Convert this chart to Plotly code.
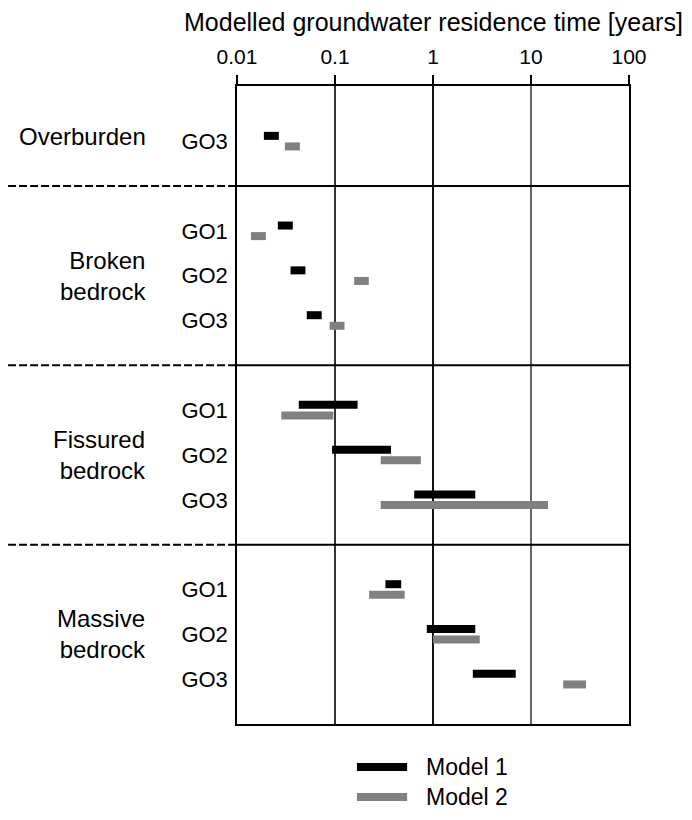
import plotly.graph_objects as go

# ---- data ----
group_labels = ["Overburden", "Broken<br>bedrock", "Fissured<br>bedrock", "Massive<br>bedrock"]
group_centers = [13.1, 10, 6, 2]
separators = [12, 8, 4]

row_labels = ["GO3", "GO1", "GO2", "GO3", "GO1", "GO2", "GO3", "GO1", "GO2", "GO3"]
row_pos = [13, 11, 10, 9, 7, 6, 5, 3, 2, 1]

model1_lo = [0.0188, 0.0261, 0.0352, 0.0515, 0.0427, 0.0933, 0.643, 0.327, 0.865, 2.55]
model1_hi = [0.0267, 0.0371, 0.0499, 0.0731, 0.170, 0.373, 2.70, 0.474, 2.70, 6.98]
model2_lo = [0.0308, 0.0139, 0.157, 0.0881, 0.0283, 0.293, 0.293, 0.223, 1.00, 21.3]
model2_hi = [0.0438, 0.0197, 0.221, 0.125, 0.0961, 0.752, 14.9, 0.514, 3.00, 36.4]

tick_vals = [0.01, 0.1, 1, 10, 100]
tick_text = ["0.01", "0.1", "1", "10", "100"]
grid_vals = [0.1, 1, 10]
grid_colors = ["#333333", "#111111", "#666666"]

model_names = ["Model 1", "Model 2"]
model_colors = ["#000000", "#808080"]
model_offsets = [0.118, -0.118]
model_lo = [model1_lo, model2_lo]
model_hi = [model1_hi, model2_hi]

FONT = "Liberation Sans, Arial, sans-serif"

fig = go.Figure()
for name, lo, hi, off, col in zip(model_names, model_lo, model_hi, model_offsets, model_colors):
    xs, ys = [], []
    for a, b, p in zip(lo, hi, row_pos):
        xs += [a, b, None]
        ys += [p + off, p + off, None]
    fig.add_trace(go.Scatter(x=xs, y=ys, mode="lines", name=name,
                             line=dict(color=col, width=8),
                             hoverinfo="skip", showlegend=False))

shapes = []
for g, gc in zip(grid_vals, grid_colors):
    shapes.append(dict(type="line", xref="x", yref="paper", x0=g, x1=g, y0=0, y1=1,
                       layer="below", line=dict(color=gc, width=2)))
for s in separators:
    shapes.append(dict(type="line", xref="paper", yref="y", x0=0, x1=1, y0=s, y1=s,
                       line=dict(color="black", width=2)))
    shapes.append(dict(type="line", xref="paper", yref="y", x0=-0.584, x1=0, y0=s, y1=s,
                       line=dict(color="black", width=2, dash="8px,3px")))

annotations = [dict(text=t, xref="paper", yref="y", x=-0.227, y=c, xanchor="right",
                    yanchor="middle", align="right", showarrow=False,
                    font=dict(size=24, color="black", family=FONT))
               for t, c in zip(group_labels, group_centers)]
annotations.append(dict(text="Modelled groundwater residence time [years]",
                        xref="paper", yref="paper", x=0.5, y=1.1003,
                        xanchor="center", yanchor="middle", showarrow=False,
                        font=dict(size=25, color="black", family=FONT)))

# manual legend (below the plot, outside the axes)
legend_y = [-0.0674, -0.1144]
for name, col, ly in zip(model_names, model_colors, legend_y):
    shapes.append(dict(type="line", xref="paper", yref="paper", x0=0.306, x1=0.434,
                       y0=ly, y1=ly, line=dict(color=col, width=8)))
    annotations.append(dict(text=name, xref="paper", yref="paper", x=0.478, y=ly,
                            xanchor="left", yanchor="middle", showarrow=False,
                            font=dict(size=23, color="black", family=FONT)))

fig.update_layout(
    width=676, height=804,
    margin=dict(l=229, r=55, t=78, b=88),
    paper_bgcolor="white", plot_bgcolor="white",
    font=dict(family=FONT, color="black"),
    shapes=shapes, annotations=annotations,
    showlegend=False,
)
fig.update_xaxes(type="log", range=[-2, 2], side="top",
                 tickvals=tick_vals, ticktext=tick_text,
                 ticks="outside", ticklen=9, tickwidth=1.5, tickcolor="black",
                 ticklabelstandoff=3,
                 tickfont=dict(size=21, color="black", family=FONT),
                 showgrid=False,
                 showline=True, mirror=True, linecolor="black", linewidth=1.5,
                 zeroline=False)
fig.update_yaxes(range=[0, 14.23], tickvals=row_pos, ticktext=row_labels,
                 ticks="", ticklabelstandoff=3,
                 tickfont=dict(size=22, color="black", family=FONT),
                 showgrid=False, zeroline=False,
                 showline=True, mirror=True, linecolor="black", linewidth=1.5)

fig.write_html("out.html")
